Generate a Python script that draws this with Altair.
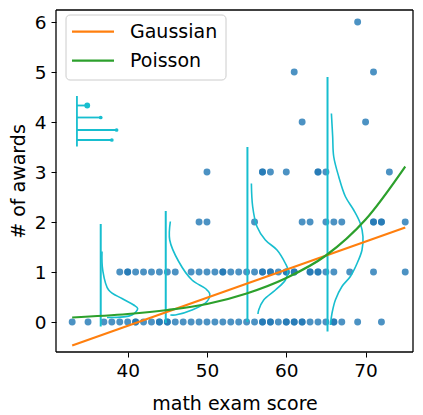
import altair as alt
import pandas as pd

# ---------------- data ----------------
# scatter: math exam score per award count (repeats = overlapping, darker dots)
awards0 = [33, 35, 37, 38, 39, 40, 41, 41, 42, 43, 44, 44, 45, 45, 46, 47, 48, 49, 50,
           51, 52, 53, 54, 55, 56, 57, 57, 58, 58, 59, 60, 60, 61, 61, 62, 62, 63, 64,
           65, 66, 66, 67, 69, 72]
awards1 = [39, 40, 40, 41, 42, 43, 44, 45, 46, 48, 49, 50, 51, 52, 52, 53, 54, 55, 56,
           57, 57, 58, 58, 59, 60, 60, 61, 61, 63, 63, 64, 64, 65, 66, 68, 71, 75]
awards2 = [49, 50, 56, 62, 63, 65, 66, 67, 71, 71, 72, 72, 75]
awards3 = [50, 57, 57, 58, 60, 64, 64, 65, 73]
awards4 = [62, 70]
awards5 = [61, 71]
awards6 = [69]

# fitted mean lines
gauss_x = [33.0, 75.0]
gauss_y = [-0.47, 1.89]
poisson_x = [33, 40, 45, 50, 55, 60, 65, 70, 75]
poisson_y = [0.09, 0.16, 0.24, 0.36, 0.57, 0.88, 1.33, 2.05, 3.11]

# vertical reference lines of the sideways densities
vline_x = [36.6, 44.8, 55.1, 65.2]
vline_bottom = [-0.09, -0.02, 0.0, -0.19]
vline_top = [1.96, 2.22, 3.50, 4.90]

# sideways density curves (x, y)
curve1_x = [36.76, 36.85, 37.6, 39.28, 40.76, 41.26, 40.54, 37.39]
curve1_y = [1.41, 1.04, 0.64, 0.47, 0.34, 0.27, 0.14, 0.09]
curve2_x = [45.38, 45.30, 46.43, 48.11, 49.80, 50.34, 50.0, 48.11, 46.0, 45.38]
curve2_y = [2.01, 1.64, 1.21, 0.84, 0.67, 0.57, 0.41, 0.24, 0.14, 0.14]
curve3_x = [55.6, 55.76, 56.3, 57.36, 58.83, 59.89, 60.21, 59.89, 58.63, 57.15, 56.52, 56.43]
curve3_y = [2.77, 2.31, 1.91, 1.64, 1.44, 1.17, 1.04, 0.84, 0.64, 0.44, 0.24, 0.16]
curve4_x = [65.69, 65.85, 65.98, 66.61, 67.45, 68.5, 69.34, 69.67, 69.55, 68.92, 68.08,
            67.02, 66.19, 65.76, 65.56]
curve4_y = [4.17, 3.71, 3.31, 2.91, 2.51, 2.24, 1.97, 1.71, 1.44, 1.17, 0.91, 0.71, 0.44,
            0.17, -0.06]

# small stem glyph in the upper left
stem_base_x = 33.6
stem_base_bottom = 3.51
stem_base_top = 4.52
stem_y = [4.33, 4.09, 3.84, 3.64]
stem_end_x = [34.9, 36.6, 38.6, 38.0]
stem_dot = [34, 14, 14, 14]

fit_names = ["Gaussian", "Poisson"]
fit_colors = ["#ff7f0e", "#2ca02c"]

x_ticks = [40, 50, 60, 70]
y_ticks = [0, 1, 2, 3, 4, 5, 6]

# ---------------- tables ----------------
pts = []
for k, xs_ in enumerate([awards0, awards1, awards2, awards3, awards4, awards5, awards6]):
    for v in xs_:
        pts.append({"score": v, "awards": k})
pts_df = pd.DataFrame(pts)

fit_rows = []
for i, (xx, yy) in enumerate(zip(gauss_x, gauss_y)):
    fit_rows.append({"model": "Gaussian", "x": xx, "y": yy, "o": i})
for i, (xx, yy) in enumerate(zip(poisson_x, poisson_y)):
    fit_rows.append({"model": "Poisson", "x": xx, "y": yy, "o": i})
fit_df = pd.DataFrame(fit_rows)

vl_df = pd.DataFrame({"x": vline_x, "y": vline_bottom, "y2": vline_top})

crv = []
for cid, (cx, cy) in enumerate([(curve1_x, curve1_y), (curve2_x, curve2_y),
                                 (curve3_x, curve3_y), (curve4_x, curve4_y)]):
    for i, (xx, yy) in enumerate(zip(cx, cy)):
        crv.append({"c": cid, "x": xx, "y": yy, "o": i})
crv_df = pd.DataFrame(crv)

stem_df = pd.DataFrame({"x": [stem_base_x] * len(stem_y), "x2": stem_end_x,
                        "y": stem_y, "s": stem_dot})
stem_base_df = pd.DataFrame({"x": [stem_base_x], "y": [stem_base_bottom], "y2": [stem_base_top]})

# ---------------- scales ----------------
PW, PH = 357, 342
xs = alt.Scale(domain=[30.96, 75.98], nice=False, zero=False)
ys = alt.Scale(domain=[-0.6, 6.24], nice=False, zero=False)
X_AX = alt.Axis(values=x_ticks, title="math exam score", grid=False)
Y_AX = alt.Axis(values=y_ticks, title="# of awards", grid=False)
CYAN = "#17becf"

points = alt.Chart(pts_df).mark_circle(size=48, opacity=0.8, color="#1f77b4").encode(
    x=alt.X("score:Q", scale=xs, axis=X_AX),
    y=alt.Y("awards:Q", scale=ys, axis=Y_AX),
)

vlines = alt.Chart(vl_df).mark_rule(color=CYAN, strokeWidth=2).encode(
    x="x:Q", y="y:Q", y2="y2:Q")

curves = alt.Chart(crv_df).mark_line(color=CYAN, strokeWidth=1.6, interpolate="catmull-rom").encode(
    x="x:Q", y="y:Q", detail="c:N", order="o:Q")

stem_base = alt.Chart(stem_base_df).mark_rule(color=CYAN, strokeWidth=1.8).encode(
    x="x:Q", y="y:Q", y2="y2:Q")
stems = alt.Chart(stem_df).mark_rule(color=CYAN, strokeWidth=1.8).encode(
    x="x:Q", x2="x2:Q", y="y:Q")
stem_dots = alt.Chart(stem_df).mark_circle(color=CYAN, opacity=1).encode(
    x="x2:Q", y="y:Q", size=alt.Size("s:Q", scale=None, legend=None))

fits = alt.Chart(fit_df).mark_line(strokeWidth=2.2, interpolate="monotone").encode(
    x="x:Q", y="y:Q", order="o:Q",
    color=alt.Color("model:N", scale=alt.Scale(domain=fit_names, range=fit_colors), legend=None),
)

leg_df = pd.DataFrame({"k": [0]})

# plot frame (matplotlib spines), drawn as four rules
frame_layers = [
    alt.Chart(leg_df).mark_rule(color="black", strokeWidth=1.3).encode(
        x=alt.value(0), x2=alt.value(PW), y=alt.value(0)),
    alt.Chart(leg_df).mark_rule(color="black", strokeWidth=1.3).encode(
        x=alt.value(0), x2=alt.value(PW), y=alt.value(PH)),
    alt.Chart(leg_df).mark_rule(color="black", strokeWidth=1.3).encode(
        x=alt.value(0), y=alt.value(0), y2=alt.value(PH)),
    alt.Chart(leg_df).mark_rule(color="black", strokeWidth=1.3).encode(
        x=alt.value(PW), y=alt.value(0), y2=alt.value(PH)),
]

# hand-built legend box (matplotlib style)
legend_layers = [
    alt.Chart(leg_df).mark_rect(fill="white", fillOpacity=0.8, stroke="#cccccc",
                                strokeWidth=1, cornerRadius=4).encode(
        x=alt.value(10), x2=alt.value(170), y=alt.value(5), y2=alt.value(70))
]
for i, (nm, col) in enumerate(zip(fit_names, fit_colors)):
    yy = 21.7 + 29 * i
    legend_layers.append(
        alt.Chart(leg_df).mark_rule(color=col, strokeWidth=2.2).encode(
            x=alt.value(16), x2=alt.value(58), y=alt.value(yy)))
    legend_layers.append(
        alt.Chart(leg_df).mark_text(align="left", baseline="middle", fontSize=19,
                                    font="DejaVu Sans", color="black", text=nm).encode(
            x=alt.value(74), y=alt.value(yy)))

chart = alt.layer(points, vlines, curves, stem_base, stems, stem_dots, fits,
                  *frame_layers, *legend_layers).properties(
    width=PW, height=PH,
    padding={"left": 48, "top": 2, "right": 2, "bottom": 63},
    autosize=alt.AutoSizeParams(type="none"),
).configure_view(
    strokeWidth=0
).configure_axis(
    domain=False, ticks=True, tickColor="black", tickSize=5, tickWidth=1,
    labelFont="DejaVu Sans", labelFontSize=18.5, labelColor="black",
    titleFont="DejaVu Sans", titleFontSize=19, titleColor="black", titleFontWeight="normal",
).configure_axisX(titlePadding=15, labelPadding=4).configure_axisY(titlePadding=6, labelPadding=5)

chart.save("out.html", embed_options={"renderer": "svg", "actions": False})
